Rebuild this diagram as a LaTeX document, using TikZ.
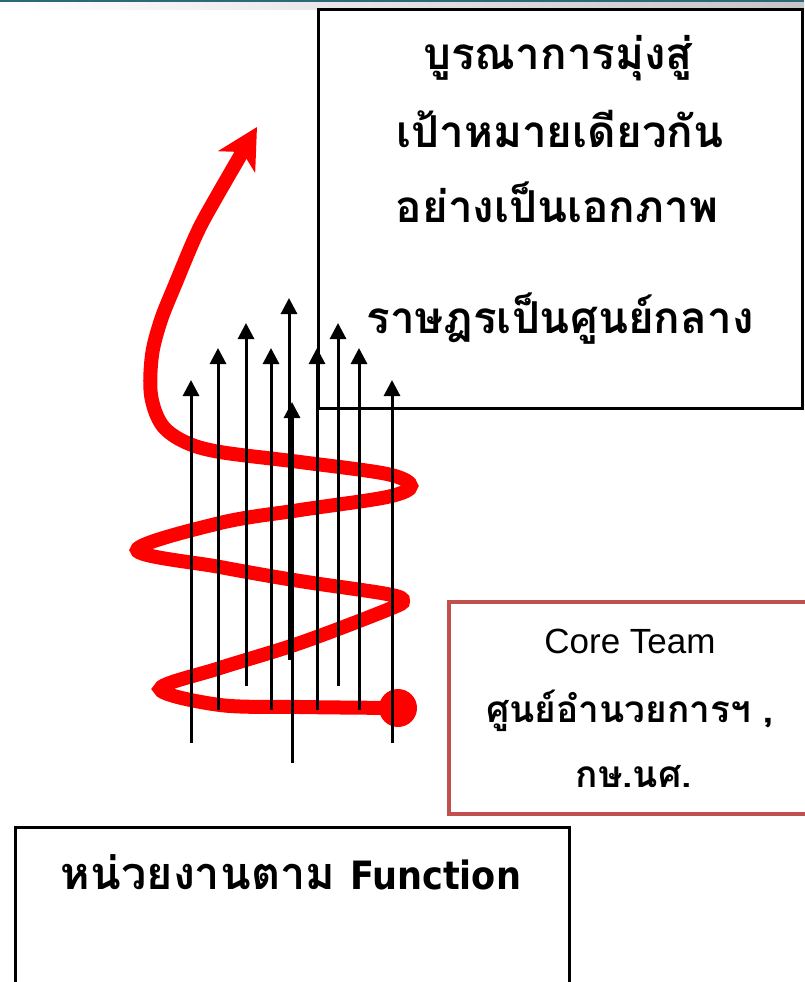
\documentclass[tikz,border=0pt]{standalone}
\usepackage{fontspec}
\setmainfont{Liberation Sans}
\newfontfamily\thaifont[Script=Thai]{Loma}
\newfontfamily\funcfont{DejaVu Sans Condensed}
\usetikzlibrary{arrows.meta}
\definecolor{spiralred}{RGB}{255,0,0}
\definecolor{boxred}{RGB}{192,80,77}
\definecolor{topteal}{RGB}{44,104,122}
\begin{document}
\begin{tikzpicture}[x=1pt,y=-1pt,
  framebox/.style={draw=black, line width=3pt, fill=white, inner sep=0pt},
  redbox/.style={draw=boxred, line width=3.5pt, fill=white, inner sep=0pt},
  uparrow/.style={draw=black, line width=3pt, -{Triangle[length=16pt,width=16pt]}},
  spiral/.style={draw=spiralred, line width=14pt, line cap=round, -{Stealth[length=40pt,width=42pt,inset=11pt]}},
  goaltext/.style={anchor=base, inner sep=0pt, font=\thaifont\bfseries\fontsize{44}{52}\selectfont},
  coretext/.style={anchor=base, inner sep=0pt, font=\fontsize{35}{42}\selectfont},
  corethai/.style={anchor=base, inner sep=0pt, font=\thaifont\bfseries\fontsize{37}{44}\selectfont},
  functext/.style={anchor=base, inner sep=0pt, font=\thaifont\bfseries\fontsize{45}{54}\selectfont}]
\useasboundingbox (0,0) rectangle (804,982);
% top bar
\fill[topteal] (0,0) rectangle (804,3);
\shade[left color=white, right color=gray!45] (0,3) rectangle (804,10);
% boxes
\node[framebox, minimum width=484pt, minimum height=398pt] (goal) at (560,209) {};
\node[redbox, minimum width=380pt, minimum height=212pt] (core) at (639,708) {};
\node[framebox, minimum width=554pt, minimum height=200pt] (func) at (292,927) {};
% texts
\node[goaltext] (g1) at (558,70) {บูรณาการมุ่งสู่};
\node[goaltext] (g2) at (560,147) {เป้าหมายเดียวกัน};
\node[goaltext] (g3) at (557,222) {อย่างเป็นเอกภาพ};
\node[goaltext] (g4) at (560,333) {ราษฎรเป็นศูนย์กลาง};
\node[coretext] (c1) at (630,653) {Core Team};
\node[corethai] (c2) at (630,722) {ศูนย์อำนวยการฯ ,};
\node[corethai] (c3) at (634,787) {กษ.นศ.};
\node[functext] (f1) at (291,889) {หน่วยงานตาม {\funcfont\bfseries\fontsize{39}{46}\selectfont Function}};
% red spiral
\fill[spiralred] (398,708) circle[radius=19pt];
\draw[spiral] plot[smooth, tension=0.55] coordinates {
  (398,708) (300,707) (220,705) (160,689) (220,668) (300,643) (387,610)
  (403,601) (387,594) (300,581) (220,567) (137,550) (220,523) (300,510)
  (387,497) (411,486) (387,474) (300,462) (220,452) (185,442) (162,425)
  (151,395) (152,355) (161,320) (175,285) (197,233) (217,196) (257,127)};
% black arrows
\draw[uparrow] (191,743) -- (191,380);
\draw[uparrow] (218,710) -- (218,348);
\draw[uparrow] (246,686) -- (246,323);
\draw[uparrow] (271,710) -- (271,348);
\draw[uparrow] (289,660) -- (289,298);
\draw[uparrow] (292,763) -- (292,402);
\draw[uparrow] (317,710) -- (317,348);
\draw[uparrow] (338,686) -- (338,323);
\draw[uparrow] (359,710) -- (359,348);
\draw[uparrow] (392,743) -- (392,380);
\end{tikzpicture}
\end{document}
